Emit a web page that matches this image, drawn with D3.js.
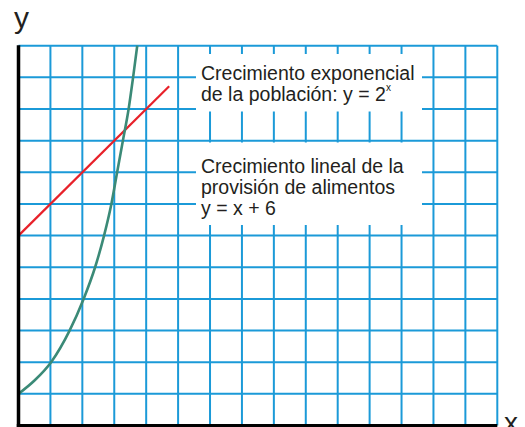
<!DOCTYPE html>
<html>
<head>
<meta charset="utf-8">
<script src="https://cdn.jsdelivr.net/npm/d3@7"></script>
<style>
  html, body { margin: 0; padding: 0; background: #fff; }
  svg { display: block; font-family: "Liberation Sans", Arial, sans-serif; }
</style>
</head>
<body>
<svg id="chart" width="525" height="427"></svg>
<script>
// ---- data ----
const xGridTicks = [0,1,2,3,4,5,6,7,8,9,10,11,12,13,14,15];
const yGridTicks = [0,1,2,3,4,5,6,7,8,9,10,11,12];

// exponential curve (population)
const expX = [0, 0.5, 1.02, 1.6, 2.04, 2.4, 2.68, 2.91, 3.09, 3.27, 3.45, 3.59, 3.72];
const expY = [1, 1.42, 2, 3, 4, 5, 6, 7, 8, 9, 10, 11, 12];

// linear (food supply) y = x + 6
const linX = [0, 4.72];
const linY = [6, 10.72];

const box1Lines = ["Crecimiento exponencial", "de la población: y = 2"];
const box1Sup = "x";
const box2Lines = ["Crecimiento lineal de la", "provisión de alimentos", "y = x + 6"];
const axisLabelX = "x";
const axisLabelY = "y";

// ---- drawing ----
const svg = d3.select("#chart");
const x = d3.scaleLinear().domain([0, 15]).range([18.5, 497.3]);
const y = d3.scaleLinear().domain([0, 12]).range([425.5, 45.7]);

const blue = "#1b9ad8", green = "#3b8a77", red = "#e8212a";

const grid = svg.append("g");
grid.selectAll("line.v").data(xGridTicks.slice(1)).join("line")
  .attr("class", "v")
  .attr("x1", d => x(d)).attr("x2", d => x(d))
  .attr("y1", y(12)).attr("y2", y(0))
  .attr("stroke", blue).attr("stroke-width", 2);
grid.selectAll("line.h").data(yGridTicks.slice(1)).join("line")
  .attr("class", "h")
  .attr("y1", d => y(d)).attr("y2", d => y(d))
  .attr("x1", x(0)).attr("x2", x(15))
  .attr("stroke", blue).attr("stroke-width", 2);

// curves
const expPts = expX.map((v, i) => [v, expY[i]]);
const linPts = linX.map((v, i) => [v, linY[i]]);
const lineGen = d3.line().x(d => x(d[0])).y(d => y(d[1])).curve(d3.curveMonotoneX);

svg.append("path").datum(linPts)
  .attr("d", d3.line().x(d => x(d[0])).y(d => y(d[1])))
  .attr("fill", "none").attr("stroke", red).attr("stroke-width", 2.2);
svg.append("path").datum(expPts)
  .attr("d", lineGen)
  .attr("fill", "none").attr("stroke", green).attr("stroke-width", 2.6);

// white label boxes
svg.append("rect").attr("x", 196).attr("y", 54).attr("width", 226).attr("height", 57.5).attr("fill", "#fff");
svg.append("rect").attr("x", 196).attr("y", 142.5).attr("width", 226).attr("height", 82.5).attr("fill", "#fff");

const fs = 19.5;
const t1 = svg.append("g").attr("font-size", fs).attr("fill", "#231f20");
box1Lines.forEach((s, i) => {
  t1.append("text").attr("x", 201).attr("y", 80 + i * 21).text(s);
});
t1.append("text").attr("x", 386).attr("y", 91).attr("font-size", 10).text(box1Sup);
box2Lines.forEach((s, i) => {
  t1.append("text").attr("x", 201).attr("y", 173.3 + i * 20.8).text(s);
});

// axes
svg.append("line").attr("x1", x(0)).attr("x2", x(0)).attr("y1", y(12) - 0.5).attr("y2", y(0) + 1.5)
  .attr("stroke", "#000").attr("stroke-width", 3.5);
svg.append("line").attr("x1", x(0) - 1.7).attr("x2", x(15)).attr("y1", y(0)).attr("y2", y(0))
  .attr("stroke", "#000").attr("stroke-width", 3);

svg.append("text").attr("x", 14).attr("y", 28).attr("font-size", 30).attr("fill", "#231f20").text(axisLabelY);
svg.append("text").attr("x", 504).attr("y", 432).attr("font-size", 28).attr("fill", "#231f20").text(axisLabelX);
</script>
</body>
</html>
